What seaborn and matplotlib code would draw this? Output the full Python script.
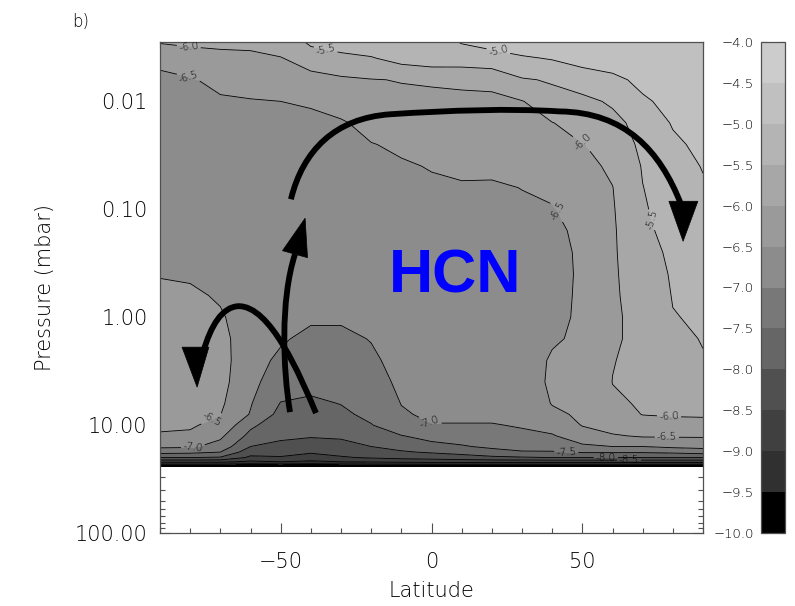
import numpy as np
import matplotlib
matplotlib.use("Agg")
import matplotlib.pyplot as plt
import seaborn as sns
from matplotlib.colors import ListedColormap, BoundaryNorm
from matplotlib.path import Path
from matplotlib.patches import PathPatch, Polygon
from matplotlib.ticker import FixedLocator, FuncFormatter, LogLocator, NullFormatter, MultipleLocator

# ---------------------------------------------------------------------------
# HCN volume mixing ratio, log10(VMR), on a latitude x pressure grid
# ---------------------------------------------------------------------------
latitude = [-90, -80, -70, -60, -50, -40, -30, -20, -10, 0, 10, 20, 30, 40, 50, 60, 70, 80, 90]
pressure_mbar = [0.00251, 0.00398, 0.00631, 0.0100, 0.0158, 0.0251, 0.0398, 0.0631,
                 0.100, 0.158, 0.251, 0.398, 0.631, 1.00, 1.58, 2.51, 3.98, 6.31,
                 7.94, 10.0, 12.6, 15.8, 17.8, 20.0, 21.9, 24.0]

# one column per latitude, top (low pressure) to bottom (high pressure)
hcn_lat_m90 = [-5.85, -6.40, -6.60, -6.65, -6.70, -6.72, -6.74, -6.75, -6.75, -6.72, -6.62, -6.52, -6.40,
               -6.32, -6.28, -6.28, -6.32, -6.38, -6.42, -6.47, -6.52, -6.90, -7.35, -8.00, -8.90, -10.0]
hcn_lat_m80 = [-5.85, -6.21, -6.55, -6.65, -6.70, -6.72, -6.74, -6.75, -6.75, -6.72, -6.64, -6.55, -6.42,
               -6.30, -6.25, -6.25, -6.30, -6.38, -6.42, -6.46, -6.56, -6.92, -7.38, -8.00, -8.90, -10.0]
hcn_lat_m70 = [-5.85, -6.13, -6.36, -6.58, -6.65, -6.70, -6.72, -6.74, -6.75, -6.75, -6.72, -6.65, -6.55,
               -6.44, -6.35, -6.33, -6.35, -6.42, -6.49, -6.60, -6.90, -7.20, -7.50, -8.05, -8.90, -10.0]
hcn_lat_m60 = [-5.85, -6.10, -6.32, -6.53, -6.62, -6.68, -6.72, -6.74, -6.75, -6.76, -6.77, -6.78, -6.78,
               -6.78, -6.79, -6.80, -6.85, -6.97, -7.03, -7.40, -7.65, -8.00, -8.30, -8.60, -9.10, -10.0]
hcn_lat_m50 = [-5.75, -6.02, -6.27, -6.50, -6.60, -6.66, -6.70, -6.73, -6.75, -6.77, -6.79, -6.80, -6.82,
               -6.85, -6.95, -7.10, -7.30, -7.52, -7.65, -7.80, -7.93, -8.10, -8.30, -8.55, -9.00, -10.0]
hcn_lat_m40 = [-5.30, -5.80, -6.17, -6.46, -6.60, -6.66, -6.70, -6.72, -6.74, -6.76, -6.78, -6.80, -6.85,
               -6.95, -7.10, -7.25, -7.40, -7.57, -7.70, -7.80, -7.95, -8.30, -8.45, -8.70, -9.10, -10.0]
hcn_lat_m30 = [-5.13, -5.66, -6.08, -6.32, -6.55, -6.65, -6.70, -6.72, -6.74, -6.76, -6.78, -6.80, -6.85,
               -6.95, -7.10, -7.20, -7.35, -7.49, -7.58, -7.75, -7.92, -8.20, -8.35, -8.55, -9.00, -10.0]
hcn_lat_m20 = [-5.20, -5.53, -6.02, -6.17, -6.35, -6.52, -6.62, -6.68, -6.72, -6.74, -6.76, -6.78, -6.80,
               -6.85, -6.98, -7.10, -7.20, -7.32, -7.40, -7.52, -7.75, -8.00, -8.25, -8.45, -8.95, -10.0]
hcn_lat_m10 = [-5.15, -5.35, -5.98, -6.13, -6.26, -6.42, -6.56, -6.65, -6.70, -6.72, -6.74, -6.76, -6.77,
               -6.78, -6.79, -6.80, -6.90, -6.99, -7.05, -7.20, -7.52, -7.85, -8.05, -8.35, -8.90, -10.0]
hcn_lat_0 = [-5.10, -5.25, -5.96, -6.10, -6.22, -6.35, -6.47, -6.60, -6.66, -6.70, -6.72, -6.73, -6.74,
             -6.75, -6.76, -6.77, -6.80, -6.85, -6.92, -7.02, -7.35, -7.65, -7.95, -8.30, -8.85, -10.0]
hcn_lat_10 = [-4.90, -5.25, -5.95, -6.07, -6.18, -6.28, -6.40, -6.56, -6.65, -6.70, -6.72, -6.73, -6.74,
              -6.75, -6.76, -6.77, -6.80, -6.85, -6.92, -7.02, -7.25, -7.55, -7.85, -8.20, -8.85, -10.0]
hcn_lat_20 = [-4.75, -5.20, -5.90, -6.10, -6.20, -6.30, -6.40, -6.57, -6.65, -6.70, -6.72, -6.73, -6.74,
              -6.74, -6.75, -6.76, -6.78, -6.85, -6.92, -7.02, -7.15, -7.40, -7.70, -8.10, -8.85, -10.0]
hcn_lat_30 = [-4.70, -5.05, -5.55, -6.02, -6.12, -6.22, -6.34, -6.49, -6.60, -6.65, -6.68, -6.70, -6.71,
              -6.72, -6.72, -6.73, -6.75, -6.82, -6.88, -6.97, -7.08, -7.30, -7.55, -8.05, -8.85, -10.0]
hcn_lat_40 = [-4.65, -4.97, -5.45, -5.72, -6.01, -6.15, -6.27, -6.40, -6.54, -6.60, -6.62, -6.62, -6.60,
              -6.58, -6.54, -6.45, -6.42, -6.48, -6.60, -6.80, -7.05, -7.25, -7.55, -8.00, -8.85, -10.0]
hcn_lat_50 = [-4.62, -4.85, -5.25, -5.65, -5.85, -6.02, -6.12, -6.20, -6.28, -6.40, -6.44, -6.45, -6.45,
              -6.45, -6.44, -6.40, -6.35, -6.38, -6.42, -6.48, -6.70, -7.10, -7.45, -8.00, -8.85, -10.0]
hcn_lat_60 = [-4.60, -4.78, -5.12, -5.42, -5.70, -5.85, -5.93, -6.01, -6.04, -6.06, -6.06, -6.06, -6.06,
              -6.07, -6.05, -6.01, -5.995, -6.05, -6.15, -6.30, -6.55, -7.00, -7.45, -8.00, -8.85, -10.0]
hcn_lat_70 = [-4.60, -4.70, -4.88, -5.08, -5.25, -5.38, -5.47, -5.51, -5.55, -5.60, -5.68, -5.76, -5.82,
              -5.86, -5.90, -5.93, -5.96, -5.97, -5.99, -6.15, -6.45, -7.00, -7.45, -8.00, -8.85, -10.0]
hcn_lat_80 = [-4.60, -4.65, -4.72, -4.84, -4.97, -5.08, -5.17, -5.25, -5.30, -5.35, -5.41, -5.45, -5.48,
              -5.52, -5.60, -5.68, -5.77, -5.87, -5.95, -6.20, -6.45, -6.90, -7.40, -8.00, -8.85, -10.0]
hcn_lat_90 = [-4.60, -4.65, -4.70, -4.75, -4.82, -4.90, -4.98, -5.05, -5.12, -5.20, -5.27, -5.33, -5.40,
              -5.44, -5.48, -5.53, -5.65, -5.82, -5.93, -6.20, -6.45, -6.85, -7.30, -8.00, -8.85, -10.0]

hcn_columns = [hcn_lat_m90, hcn_lat_m80, hcn_lat_m70, hcn_lat_m60, hcn_lat_m50, hcn_lat_m40,
               hcn_lat_m30, hcn_lat_m20, hcn_lat_m10, hcn_lat_0, hcn_lat_10, hcn_lat_20,
               hcn_lat_30, hcn_lat_40, hcn_lat_50, hcn_lat_60, hcn_lat_70, hcn_lat_80, hcn_lat_90]

# contour levels and the grey shade of each band (lowest band first)
fill_levels = [-10.0, -9.5, -9.0, -8.5, -8.0, -7.5, -7.0, -6.5, -6.0, -5.5, -5.0, -4.5, -4.0]
line_levels = [-9.5, -9.0, -8.5, -8.0, -7.5, -7.0, -6.5, -6.0, -5.5, -5.0, -4.5]
band_colors = ["#000000", "#303030", "#404040", "#505050", "#666666", "#787878",
               "#8c8c8c", "#9a9a9a", "#a7a7a7", "#b4b4b4", "#c0c0c0", "#cccccc"]

# where the contour values are written on the lines (latitude, pressure)
label_spots = [(-80.4, 0.00302), (-35.0, 0.00324), (22.0, 0.00355), (-80.4, 0.00575),
               (48.2, 0.0275), (43.6, 0.100), (72.4, 0.126), (-72.4, 9.12), (-0.5, 9.33),
               (78.7, 8.70), (78.0, 13.5), (44.6, 18.6), (57.8, 20.0), (65.5, 21.4), (-79.0, 16.2)]

# circulation arrows sketched over the field: Bezier control points (latitude, pressure)
arc_points = [(-46.6, 0.0808), (-42.6, 0.0284), (-32.0, 0.01437), (-13.8, 0.01318),
              (6.1, 0.01211), (26.0, 0.0116), (42.6, 0.0124),
              (64.1, 0.01265), (75.7, 0.0284), (82.7, 0.0899)]
arc_head = [(78.7, 0.0843), (88.3, 0.0843), (83.4, 0.198)]
rise_points = [(-46.9, 7.58), (-49.2, 3.10), (-50.2, 0.696), (-45.25, 0.261)]
rise_head = [(-49.4, 0.242), (-41.1, 0.281), (-41.9, 0.121)]
hook_points = [(-38.3, 7.74), (-43.6, 3.44), (-53.5, 0.774), (-64.1, 0.791),
               (-69.4, 0.808), (-73.1, 1.186), (-75.7, 2.11)]
hook_head = [(-82.7, 1.896), (-73.8, 1.896), (-77.7, 4.45)]

# ---------------------------------------------------------------------------
sns.set_style("ticks")
plt.rcParams["font.family"] = ["DejaVu Sans"]
plt.rcParams["font.weight"] = "light"
plt.rcParams["axes.labelweight"] = "light"
plt.rcParams["axes.unicode_minus"] = True
plt.rcParams["contour.negative_linestyle"] = "solid"
text_color = "#000000"
frame_color = "#505050"

field = np.column_stack(hcn_columns)
lat_grid, p_grid = np.meshgrid(np.array(latitude, float), np.array(pressure_mbar, float))

cmap = ListedColormap(sns.color_palette(band_colors))
norm = BoundaryNorm(fill_levels, cmap.N)

fig = plt.figure(figsize=(7.95, 6.06), dpi=100)
ax = fig.add_axes([160 / 795, 73 / 606, 543 / 795, 491 / 606])
cax = fig.add_axes([761 / 795, 73 / 606, 24 / 795, 491 / 606])

ax.set_yscale("log")
cf = ax.contourf(lat_grid, p_grid, field, levels=fill_levels, cmap=cmap, norm=norm)
cl = ax.contour(lat_grid, p_grid, field, levels=line_levels, colors="black",
                linewidths=0.6, linestyles="solid")
ax.clabel(cl, fmt="%.1f", fontsize=7.5, manual=label_spots, inline=True, inline_spacing=2)

ax.set_xlim(-90, 90)
ax.set_ylim(100, 10 ** -2.55)

ax.xaxis.set_major_locator(FixedLocator([-50, 0, 50]))
ax.xaxis.set_minor_locator(MultipleLocator(10))
ax.yaxis.set_major_locator(FixedLocator([0.01, 0.1, 1, 10, 100]))
ax.yaxis.set_major_formatter(FuncFormatter(lambda v, _: f"{v:.2f}"))
ax.yaxis.set_minor_locator(LogLocator(base=10, subs=np.arange(2, 10), numticks=30))
ax.yaxis.set_minor_formatter(NullFormatter())
ax.tick_params(which="both", direction="in", top=True, right=True, color=frame_color,
               labelcolor=text_color, labelsize=15, width=0.8)
ax.tick_params(which="major", length=7)
ax.tick_params(which="minor", length=3.5)
ax.tick_params(axis="x", pad=14)
ax.tick_params(axis="y", pad=9)
for sp in ax.spines.values():
    sp.set_color(frame_color)
    sp.set_linewidth(0.9)

ax.set_xlabel("Latitude", fontsize=15, color=text_color, labelpad=6)
ax.set_ylabel("Pressure (mbar)", fontsize=15, color=text_color, labelpad=14)


def draw_arrow(points, head):
    codes = [Path.MOVETO] + [Path.CURVE4] * (len(points) - 1)
    ax.add_patch(PathPatch(Path(points, codes), facecolor="none", edgecolor="black",
                           linewidth=4.2, capstyle="butt", joinstyle="round",
                           transform=ax.transData, zorder=5))
    ax.add_patch(Polygon(head, closed=True, facecolor="black", edgecolor="black",
                         linewidth=0.5, transform=ax.transData, zorder=6))


draw_arrow(arc_points, arc_head)
draw_arrow(rise_points, rise_head)
draw_arrow(hook_points, hook_head)

ax.text(7.8, 0.587, "HCN", color="#0000ff", fontsize=44, fontweight="bold",
        family=["Liberation Sans", "DejaVu Sans"], ha="center", va="baseline", zorder=7)

cb = fig.colorbar(cf, cax=cax, ticks=fill_levels)
cb.outline.set_edgecolor(frame_color)
cb.outline.set_linewidth(0.9)
cax.yaxis.set_ticks_position("both")
cax.tick_params(labelleft=True, labelright=False, direction="in", length=4, width=0.8,
                color=frame_color, labelsize=9.5, labelcolor=text_color, pad=5)
cax.yaxis.set_major_formatter(FuncFormatter(lambda v, _: f"{v:.1f}".replace("-", "\u2212")))

fig.text(72 / 795, 1 - 22 / 606, "b)", fontsize=12, color=text_color, va="center")

fig.savefig("out.png", dpi=100)
